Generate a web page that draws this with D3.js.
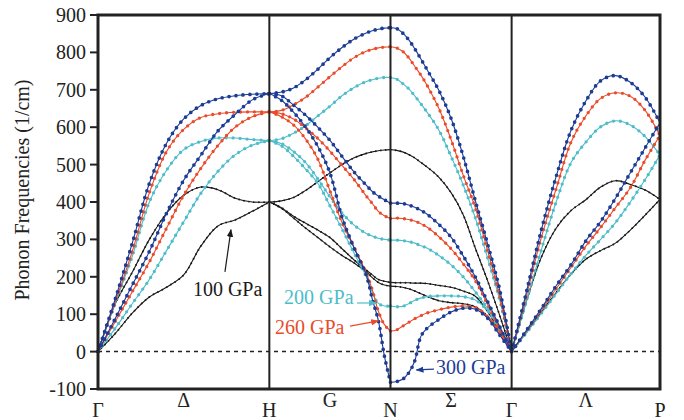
<!DOCTYPE html>
<html>
<head>
<meta charset="utf-8">
<script src="https://cdn.jsdelivr.net/npm/d3@7"></script>
<style>
body { margin: 0; background: #fff; }
svg { display: block; }
text { font-family: "Liberation Serif", "Times New Roman", serif; }
</style>
</head>
<body>
<svg id="chart" width="684" height="420"></svg>
<script>
// high symmetry points and path distances
const symLabels = ['Γ', 'H', 'N', 'Γ', 'P']
const symPos = [0, 1, 1.707, 2.414, 3.280]
const midLabels = ['Δ', 'G', 'Σ', 'Λ']
const yTicks = [-100, 0, 100, 200, 300, 400, 500, 600, 700, 800, 900]

// sampling positions inside each segment (fraction of segment)
const kGH = [0, .1, .2, .3, .4, .5, .6, .7, .8, .9, 1]
const kHN = [0, .1, .2, .3, .4, .5, .6, .7, .8, .85, .9, .95, 1]
const kNG = [0, .05, .1, .15, .2, .25, .3, .4, .5, .6, .7, .8, .9, 1]
const kGP = [0, .1, .2, .3, .4, .5, .6, .7, .8, .9, 1]

// 100 GPa
const p100GH = [
    [0, 127, 212, 300, 370, 418, 440, 433, 410, 400, 400],
    [0, 48, 103, 146, 172, 205, 282, 336, 352, 375, 400]]
const p100HN = [
    [400, 403, 412, 431, 454, 478, 500, 518, 530, 534, 537, 539, 540],
    [400, 385, 362, 343, 325, 305, 275, 245, 218, 205, 193, 188, 185],
    [400, 383, 357, 330, 305, 280, 257, 237, 213, 198, 185, 178, 175]]
const p100NG = [
    [540, 538, 534, 527, 518, 506, 494, 466, 425, 366, 277, 191, 98, 0],
    [185, 184, 184, 184, 183, 183, 182, 177, 172, 162, 148, 108, 56, 0],
    [175, 174, 172, 168, 162, 155, 148, 136, 131, 128, 120, 95, 55, 0]]
const p100GP = [
    [0, 135, 252, 330, 377, 406, 440, 457, 447, 432, 407],
    [0, 52, 105, 158, 207, 247, 270, 290, 325, 365, 407]]

// 200 GPa
const p200GH = [
    [0, 128, 255, 400, 485, 540, 562, 571, 571, 567, 564],
    [0, 62, 128, 193, 270, 347, 423, 482, 526, 552, 564]]
const p200HN = [
    [564, 569, 584, 604, 630, 656, 684, 706, 722, 727, 731, 733, 733],
    [564, 556, 535, 505, 462, 414, 371, 338, 316, 309, 303, 300, 298],
    [564, 550, 522, 488, 450, 390, 328, 263, 200, 158, 129, 122, 122]]
const p200NG = [
    [733, 729, 717, 703, 684, 663, 641, 592, 522, 446, 358, 252, 140, 0],
    [298, 298, 297, 294, 290, 283, 277, 257, 232, 200, 160, 116, 58, 0],
    [122, 120, 121, 128, 137, 143, 147, 149, 149, 147, 138, 110, 62, 0]]
const p200GP = [
    [0, 135, 272, 400, 505, 560, 601, 617, 606, 575, 526],
    [0, 50, 102, 155, 208, 257, 300, 345, 400, 460, 526]]

// 260 GPa
const p260GH = [
    [0, 132, 268, 425, 535, 594, 626, 636, 640, 641, 641],
    [0, 80, 160, 240, 330, 418, 490, 551, 600, 628, 641]]
const p260HN = [
    [641, 645, 660, 680, 707, 735, 762, 786, 803, 808, 812, 814, 815],
    [641, 636, 622, 598, 570, 536, 498, 460, 416, 396, 375, 363, 356],
    [641, 628, 606, 568, 515, 430, 345, 278, 210, 165, 108, 72, 55]]
const p260NG = [
    [815, 812, 803, 786, 763, 740, 713, 650, 567, 472, 385, 272, 150, 0],
    [356, 357, 356, 353, 349, 342, 333, 307, 275, 235, 190, 127, 62, 0],
    [55, 58, 68, 78, 88, 96, 103, 112, 119, 122, 118, 94, 52, 0]]
const p260GP = [
    [0, 150, 305, 435, 560, 630, 677, 692, 683, 645, 578],
    [0, 55, 110, 168, 225, 282, 332, 385, 438, 512, 578]]

// 300 GPa
const p300GH = [
    [0, 140, 290, 450, 557, 622, 658, 676, 684, 688, 690],
    [0, 88, 178, 268, 370, 458, 525, 590, 634, 673, 690]]
const p300HN = [
    [690, 694, 705, 727, 755, 786, 813, 836, 852, 858, 862, 865, 866],
    [690, 684, 659, 632, 600, 565, 522, 480, 445, 428, 416, 406, 397],
    [690, 672, 640, 600, 549, 478, 360, 277, 205, 140, 83, -12, -82]]
const p300NG = [
    [866, 864, 852, 834, 810, 783, 755, 698, 624, 523, 404, 290, 168, 0],
    [397, 397, 396, 392, 386, 378, 368, 340, 306, 256, 200, 135, 68, 0],
    [-82, -80, -74, -57, -25, 40, 62, 86, 106, 116, 113, 90, 45, 0]]
const p300GP = [
    [0, 160, 325, 468, 591, 670, 724, 738, 720, 680, 612],
    [0, 57, 115, 176, 232, 296, 348, 410, 478, 545, 612]]

const grids = [kGH, kHN, kNG, kGP]

const series = [
    {label: '100 GPa', color: '#1a1a1a', dot: 1.9, gap: 5, segs: [p100GH, p100HN, p100NG, p100GP]},
    {label: '200 GPa', color: '#4dbdca', dot: 3.3, gap: 7, segs: [p200GH, p200HN, p200NG, p200GP]},
    {label: '260 GPa', color: '#ea4b2b', dot: 3.3, gap: 7, segs: [p260GH, p260HN, p260NG, p260GP]},
    {label: '300 GPa', color: '#1d3c95', dot: 3.7, gap: 7, segs: [p300GH, p300HN, p300NG, p300GP]}
]

// annotations, in (path distance, frequency)
const notes = [
    {text: '100 GPa', color: '#1a1a1a', at: [0.554, 149], from: [0.741, 213], to: [0.776, 326]},
    {text: '200 GPa', color: '#4dbdca', at: [1.086, 127], from: [1.512, 130], to: [1.623, 130]},
    {text: '260 GPa', color: '#ea4b2b', at: [1.033, 47], from: [1.471, 68], to: [1.636, 82]},
    {text: '300 GPa', color: '#1d3c95', at: [1.973, -60], from: [1.961, -47], to: [1.858, -49]}
]

const svg = d3.select('#chart')
const mLeft = 98, mRight = 660, mTop = 15, mBottom = 389

const x = d3.scaleLinear().domain([0, symPos[symPos.length - 1]]).range([mLeft, mRight])
const y = d3.scaleLinear().domain([-100, 900]).range([mBottom, mTop])

const line = d3.line().curve(d3.curveCatmullRom.alpha(0.5))

// zero line
svg.append('line')
    .attr('x1', mLeft).attr('x2', mRight)
    .attr('y1', y(0)).attr('y2', y(0))
    .attr('stroke', '#222')
    .attr('stroke-width', 1.5)
    .attr('stroke-dasharray', '4 4')

const curves = svg.append('g')

series.forEach(s => {
    s.segs.forEach((branches, i) => {
        const k = grids[i]
        const a = symPos[i], b = symPos[i + 1]
        branches.forEach(vals => {
            const pts = vals.map((v, j) => [x(a + k[j] * (b - a)), y(v)])
            const d = line(pts)
            curves.append('path')
                .attr('d', d)
                .attr('fill', 'none')
                .attr('stroke', s.color)
                .attr('stroke-width', 1.1)
            curves.append('path')
                .attr('d', d)
                .attr('fill', 'none')
                .attr('stroke', s.color)
                .attr('stroke-width', s.dot)
                .attr('stroke-linecap', 'round')
                .attr('stroke-dasharray', `0 ${s.gap}`)
        })
    })
})

// vertical lines at inner symmetry points
svg.selectAll('.sym')
    .data(symPos.slice(1, -1))
    .enter()
    .append('line')
    .attr('x1', d => x(d)).attr('x2', d => x(d))
    .attr('y1', mTop).attr('y2', mBottom)
    .attr('stroke', '#222')
    .attr('stroke-width', 2)

// frame
svg.append('rect')
    .attr('x', mLeft).attr('y', mTop)
    .attr('width', mRight - mLeft).attr('height', mBottom - mTop)
    .attr('fill', 'none')
    .attr('stroke', '#222')
    .attr('stroke-width', 3)

// y axis
const yAxis = svg.append('g')
yAxis.selectAll('line')
    .data(yTicks)
    .enter()
    .append('line')
    .attr('x1', mLeft - 8).attr('x2', mLeft)
    .attr('y1', d => y(d)).attr('y2', d => y(d))
    .attr('stroke', '#222')
    .attr('stroke-width', 2)

yAxis.selectAll('text')
    .data(yTicks)
    .enter()
    .append('text')
    .attr('x', mLeft - 12)
    .attr('y', d => y(d) + 7)
    .attr('text-anchor', 'end')
    .attr('font-size', 20)
    .attr('fill', '#222')
    .text(d => d)

svg.append('text')
    .attr('transform', `translate(29,${(mTop + mBottom) / 2 - 12}) rotate(-90)`)
    .attr('text-anchor', 'middle')
    .attr('font-size', 20)
    .attr('fill', '#222')
    .text('Phonon Frequencies (1/cm)')

// x labels
svg.selectAll('.symlab')
    .data(symLabels)
    .enter()
    .append('text')
    .attr('x', (d, i) => x(symPos[i]))
    .attr('y', 417)
    .attr('text-anchor', 'middle')
    .attr('font-size', 20)
    .attr('fill', '#222')
    .text(d => d)

svg.selectAll('.midlab')
    .data(midLabels)
    .enter()
    .append('text')
    .attr('x', (d, i) => x((symPos[i] + symPos[i + 1]) / 2))
    .attr('y', 407)
    .attr('text-anchor', 'middle')
    .attr('font-size', 20)
    .attr('fill', '#222')
    .text(d => d)

// annotations with arrows
const defs = svg.append('defs')
notes.forEach((n, i) => {
    defs.append('marker')
        .attr('id', `arr${i}`)
        .attr('viewBox', '0 0 10 10')
        .attr('refX', 9).attr('refY', 5)
        .attr('markerWidth', 8).attr('markerHeight', 8)
        .attr('markerUnits', 'userSpaceOnUse')
        .attr('orient', 'auto')
        .append('path')
        .attr('d', 'M0,1 L10,5 L0,9 Z')
        .attr('fill', n.color)

    svg.append('line')
        .attr('x1', x(n.from[0])).attr('y1', y(n.from[1]))
        .attr('x2', x(n.to[0])).attr('y2', y(n.to[1]))
        .attr('stroke', n.color)
        .attr('stroke-width', 1.2)
        .attr('marker-end', `url(#arr${i})`)

    svg.append('text')
        .attr('x', x(n.at[0]))
        .attr('y', y(n.at[1]))
        .attr('font-size', 20)
        .attr('fill', n.color)
        .text(n.text)
})
</script>
</body>
</html>
